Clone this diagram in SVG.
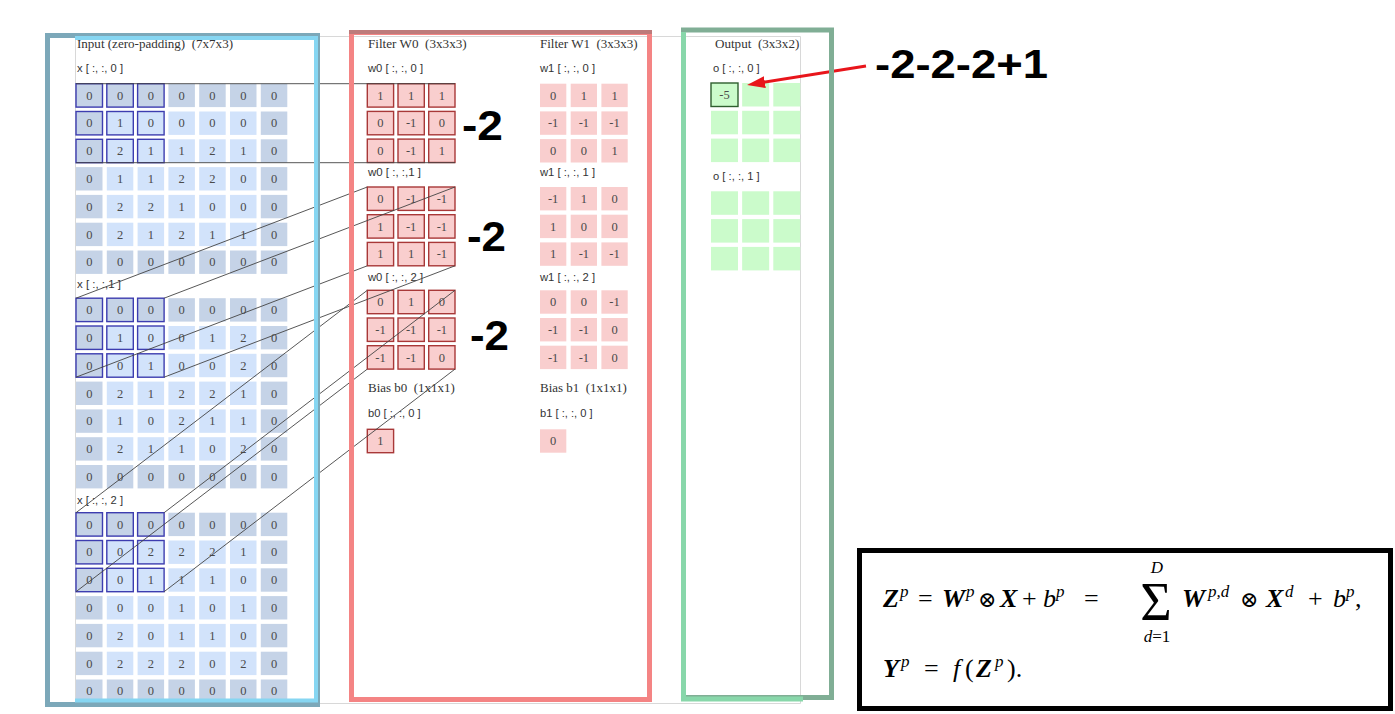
<svg xmlns="http://www.w3.org/2000/svg" xmlns:xlink="http://www.w3.org/1999/xlink" width="1395" height="714" viewBox="0 0 1395 714">
<style>
.pd{fill:#c5d3e7}
.in{fill:#d2e3fb}
.fc{fill:#f9cece}
.oc{fill:#cbfbcb}
.hb{fill:none;stroke:#3d3db0;stroke-width:1.4}
.hr{fill:none;stroke:#a83838;stroke-width:1.4}
.hg{fill:none;stroke:#2e5e2e;stroke-width:1.4}
.n{font-family:"Liberation Serif",serif;font-size:12.5px;fill:#4a4a4a;text-anchor:middle}
.t{font-family:"Liberation Serif",serif;font-size:12px;fill:#333}
.s{font-family:"Liberation Sans",sans-serif;font-size:10px;fill:#333}
.big{font-family:"Liberation Sans",sans-serif;font-weight:bold;fill:#000}
.ln{stroke:#444;stroke-width:0.9;fill:none}
.edge{stroke:#d8d8d8;stroke-width:1;fill:none}
.m{font-family:"Liberation Serif",serif;font-size:26px;fill:#000}
.sp{font-size:17px;font-style:italic}
.bi{font-weight:bold;font-style:italic}
.it{font-style:italic}
.op{font-family:"DejaVu Serif","Liberation Serif",serif;font-size:22px}
</style>
<defs>
<rect id="c7" width="26.5" height="23.4"/>
<rect id="c3" width="26.3" height="23.4"/>
<rect id="co" width="27" height="23.5"/>
<g id="g7">
<use href="#c7" class="pd" x="0" y="0"/><use href="#c7" class="pd" x="30.8" y="0"/><use href="#c7" class="pd" x="61.6" y="0"/><use href="#c7" class="pd" x="92.4" y="0"/><use href="#c7" class="pd" x="123.2" y="0"/><use href="#c7" class="pd" x="154" y="0"/><use href="#c7" class="pd" x="184.8" y="0"/>
<use href="#c7" class="pd" x="0" y="27.8"/><use href="#c7" class="in" x="30.8" y="27.8"/><use href="#c7" class="in" x="61.6" y="27.8"/><use href="#c7" class="in" x="92.4" y="27.8"/><use href="#c7" class="in" x="123.2" y="27.8"/><use href="#c7" class="in" x="154" y="27.8"/><use href="#c7" class="pd" x="184.8" y="27.8"/>
<use href="#c7" class="pd" x="0" y="55.6"/><use href="#c7" class="in" x="30.8" y="55.6"/><use href="#c7" class="in" x="61.6" y="55.6"/><use href="#c7" class="in" x="92.4" y="55.6"/><use href="#c7" class="in" x="123.2" y="55.6"/><use href="#c7" class="in" x="154" y="55.6"/><use href="#c7" class="pd" x="184.8" y="55.6"/>
<use href="#c7" class="pd" x="0" y="83.4"/><use href="#c7" class="in" x="30.8" y="83.4"/><use href="#c7" class="in" x="61.6" y="83.4"/><use href="#c7" class="in" x="92.4" y="83.4"/><use href="#c7" class="in" x="123.2" y="83.4"/><use href="#c7" class="in" x="154" y="83.4"/><use href="#c7" class="pd" x="184.8" y="83.4"/>
<use href="#c7" class="pd" x="0" y="111.2"/><use href="#c7" class="in" x="30.8" y="111.2"/><use href="#c7" class="in" x="61.6" y="111.2"/><use href="#c7" class="in" x="92.4" y="111.2"/><use href="#c7" class="in" x="123.2" y="111.2"/><use href="#c7" class="in" x="154" y="111.2"/><use href="#c7" class="pd" x="184.8" y="111.2"/>
<use href="#c7" class="pd" x="0" y="139"/><use href="#c7" class="in" x="30.8" y="139"/><use href="#c7" class="in" x="61.6" y="139"/><use href="#c7" class="in" x="92.4" y="139"/><use href="#c7" class="in" x="123.2" y="139"/><use href="#c7" class="in" x="154" y="139"/><use href="#c7" class="pd" x="184.8" y="139"/>
<use href="#c7" class="pd" x="0" y="166.8"/><use href="#c7" class="pd" x="30.8" y="166.8"/><use href="#c7" class="pd" x="61.6" y="166.8"/><use href="#c7" class="pd" x="92.4" y="166.8"/><use href="#c7" class="pd" x="123.2" y="166.8"/><use href="#c7" class="pd" x="154" y="166.8"/><use href="#c7" class="pd" x="184.8" y="166.8"/>
</g>
<g id="h7">
<use href="#c7" class="hb" x="0" y="0"/><use href="#c7" class="hb" x="30.8" y="0"/><use href="#c7" class="hb" x="61.6" y="0"/>
<use href="#c7" class="hb" x="0" y="27.8"/><use href="#c7" class="hb" x="30.8" y="27.8"/><use href="#c7" class="hb" x="61.6" y="27.8"/>
<use href="#c7" class="hb" x="0" y="55.6"/><use href="#c7" class="hb" x="30.8" y="55.6"/><use href="#c7" class="hb" x="61.6" y="55.6"/>
</g>
<g id="g3">
<use href="#c3" class="fc" x="0" y="0"/><use href="#c3" class="fc" x="30.7" y="0"/><use href="#c3" class="fc" x="61.4" y="0"/>
<use href="#c3" class="fc" x="0" y="27.7"/><use href="#c3" class="fc" x="30.7" y="27.7"/><use href="#c3" class="fc" x="61.4" y="27.7"/>
<use href="#c3" class="fc" x="0" y="55.4"/><use href="#c3" class="fc" x="30.7" y="55.4"/><use href="#c3" class="fc" x="61.4" y="55.4"/>
</g>
<g id="h3">
<use href="#c3" class="hr" x="0" y="0"/><use href="#c3" class="hr" x="30.7" y="0"/><use href="#c3" class="hr" x="61.4" y="0"/>
<use href="#c3" class="hr" x="0" y="27.7"/><use href="#c3" class="hr" x="30.7" y="27.7"/><use href="#c3" class="hr" x="61.4" y="27.7"/>
<use href="#c3" class="hr" x="0" y="55.4"/><use href="#c3" class="hr" x="30.7" y="55.4"/><use href="#c3" class="hr" x="61.4" y="55.4"/>
</g>
<g id="go">
<use href="#co" class="oc" x="0" y="0"/><use href="#co" class="oc" x="31.15" y="0"/><use href="#co" class="oc" x="62.3" y="0"/>
<use href="#co" class="oc" x="0" y="27.8"/><use href="#co" class="oc" x="31.15" y="27.8"/><use href="#co" class="oc" x="62.3" y="27.8"/>
<use href="#co" class="oc" x="0" y="55.6"/><use href="#co" class="oc" x="31.15" y="55.6"/><use href="#co" class="oc" x="62.3" y="55.6"/>
</g>
<marker id="ah" markerWidth="6" markerHeight="4" refX="2" refY="2" orient="auto" markerUnits="strokeWidth">
<path d="M0,0 L6,2 L0,4 z" fill="#e8151b"/>
</marker>
</defs>
<rect width="1395" height="714" fill="#fff"/>
<path class="edge" d="M75.5,36.5 H800.5 V703.5 H75.5 Z"/>

<g id="input">
<text class="t" x="77" y="48" xml:space="preserve" textLength="156" lengthAdjust="spacingAndGlyphs">Input (zero-padding)  (7x7x3)</text>
<text class="s" x="77" y="72" textLength="46" lengthAdjust="spacingAndGlyphs">x [ :, :, 0 ]</text>
<text class="s" x="77" y="288" textLength="44" lengthAdjust="spacingAndGlyphs">x [ :, :,1 ]</text>
<text class="s" x="77" y="503.5" textLength="46" lengthAdjust="spacingAndGlyphs">x [ :, :, 2 ]</text>
<g id="input-x0" transform="translate(76,83.7)">
<use href="#g7"/><use href="#h7"/>
<text class="n" x="13.25" y="16">0</text><text class="n" x="44.05" y="16">0</text><text class="n" x="74.85" y="16">0</text><text class="n" x="105.65" y="16">0</text><text class="n" x="136.45" y="16">0</text><text class="n" x="167.25" y="16">0</text><text class="n" x="198.05" y="16">0</text>
<text class="n" x="13.25" y="43.8">0</text><text class="n" x="44.05" y="43.8">1</text><text class="n" x="74.85" y="43.8">0</text><text class="n" x="105.65" y="43.8">0</text><text class="n" x="136.45" y="43.8">0</text><text class="n" x="167.25" y="43.8">0</text><text class="n" x="198.05" y="43.8">0</text>
<text class="n" x="13.25" y="71.6">0</text><text class="n" x="44.05" y="71.6">2</text><text class="n" x="74.85" y="71.6">1</text><text class="n" x="105.65" y="71.6">1</text><text class="n" x="136.45" y="71.6">2</text><text class="n" x="167.25" y="71.6">1</text><text class="n" x="198.05" y="71.6">0</text>
<text class="n" x="13.25" y="99.4">0</text><text class="n" x="44.05" y="99.4">1</text><text class="n" x="74.85" y="99.4">1</text><text class="n" x="105.65" y="99.4">2</text><text class="n" x="136.45" y="99.4">2</text><text class="n" x="167.25" y="99.4">0</text><text class="n" x="198.05" y="99.4">0</text>
<text class="n" x="13.25" y="127.2">0</text><text class="n" x="44.05" y="127.2">2</text><text class="n" x="74.85" y="127.2">2</text><text class="n" x="105.65" y="127.2">1</text><text class="n" x="136.45" y="127.2">0</text><text class="n" x="167.25" y="127.2">0</text><text class="n" x="198.05" y="127.2">0</text>
<text class="n" x="13.25" y="155">0</text><text class="n" x="44.05" y="155">2</text><text class="n" x="74.85" y="155">1</text><text class="n" x="105.65" y="155">2</text><text class="n" x="136.45" y="155">1</text><text class="n" x="167.25" y="155">1</text><text class="n" x="198.05" y="155">0</text>
<text class="n" x="13.25" y="182.8">0</text><text class="n" x="44.05" y="182.8">0</text><text class="n" x="74.85" y="182.8">0</text><text class="n" x="105.65" y="182.8">0</text><text class="n" x="136.45" y="182.8">0</text><text class="n" x="167.25" y="182.8">0</text><text class="n" x="198.05" y="182.8">0</text>
</g>
<g id="input-x1" transform="translate(76,298.2)">
<use href="#g7"/><use href="#h7"/>
<text class="n" x="13.25" y="16">0</text><text class="n" x="44.05" y="16">0</text><text class="n" x="74.85" y="16">0</text><text class="n" x="105.65" y="16">0</text><text class="n" x="136.45" y="16">0</text><text class="n" x="167.25" y="16">0</text><text class="n" x="198.05" y="16">0</text>
<text class="n" x="13.25" y="43.8">0</text><text class="n" x="44.05" y="43.8">1</text><text class="n" x="74.85" y="43.8">0</text><text class="n" x="105.65" y="43.8">0</text><text class="n" x="136.45" y="43.8">1</text><text class="n" x="167.25" y="43.8">2</text><text class="n" x="198.05" y="43.8">0</text>
<text class="n" x="13.25" y="71.6">0</text><text class="n" x="44.05" y="71.6">0</text><text class="n" x="74.85" y="71.6">1</text><text class="n" x="105.65" y="71.6">0</text><text class="n" x="136.45" y="71.6">0</text><text class="n" x="167.25" y="71.6">2</text><text class="n" x="198.05" y="71.6">0</text>
<text class="n" x="13.25" y="99.4">0</text><text class="n" x="44.05" y="99.4">2</text><text class="n" x="74.85" y="99.4">1</text><text class="n" x="105.65" y="99.4">2</text><text class="n" x="136.45" y="99.4">2</text><text class="n" x="167.25" y="99.4">1</text><text class="n" x="198.05" y="99.4">0</text>
<text class="n" x="13.25" y="127.2">0</text><text class="n" x="44.05" y="127.2">1</text><text class="n" x="74.85" y="127.2">0</text><text class="n" x="105.65" y="127.2">2</text><text class="n" x="136.45" y="127.2">1</text><text class="n" x="167.25" y="127.2">1</text><text class="n" x="198.05" y="127.2">0</text>
<text class="n" x="13.25" y="155">0</text><text class="n" x="44.05" y="155">2</text><text class="n" x="74.85" y="155">1</text><text class="n" x="105.65" y="155">1</text><text class="n" x="136.45" y="155">0</text><text class="n" x="167.25" y="155">2</text><text class="n" x="198.05" y="155">0</text>
<text class="n" x="13.25" y="182.8">0</text><text class="n" x="44.05" y="182.8">0</text><text class="n" x="74.85" y="182.8">0</text><text class="n" x="105.65" y="182.8">0</text><text class="n" x="136.45" y="182.8">0</text><text class="n" x="167.25" y="182.8">0</text><text class="n" x="198.05" y="182.8">0</text>
</g>
<g id="input-x2" transform="translate(76,512.7)">
<use href="#g7"/><use href="#h7"/>
<text class="n" x="13.25" y="16">0</text><text class="n" x="44.05" y="16">0</text><text class="n" x="74.85" y="16">0</text><text class="n" x="105.65" y="16">0</text><text class="n" x="136.45" y="16">0</text><text class="n" x="167.25" y="16">0</text><text class="n" x="198.05" y="16">0</text>
<text class="n" x="13.25" y="43.8">0</text><text class="n" x="44.05" y="43.8">0</text><text class="n" x="74.85" y="43.8">2</text><text class="n" x="105.65" y="43.8">2</text><text class="n" x="136.45" y="43.8">2</text><text class="n" x="167.25" y="43.8">1</text><text class="n" x="198.05" y="43.8">0</text>
<text class="n" x="13.25" y="71.6">0</text><text class="n" x="44.05" y="71.6">0</text><text class="n" x="74.85" y="71.6">1</text><text class="n" x="105.65" y="71.6">1</text><text class="n" x="136.45" y="71.6">1</text><text class="n" x="167.25" y="71.6">0</text><text class="n" x="198.05" y="71.6">0</text>
<text class="n" x="13.25" y="99.4">0</text><text class="n" x="44.05" y="99.4">0</text><text class="n" x="74.85" y="99.4">0</text><text class="n" x="105.65" y="99.4">1</text><text class="n" x="136.45" y="99.4">0</text><text class="n" x="167.25" y="99.4">1</text><text class="n" x="198.05" y="99.4">0</text>
<text class="n" x="13.25" y="127.2">0</text><text class="n" x="44.05" y="127.2">2</text><text class="n" x="74.85" y="127.2">0</text><text class="n" x="105.65" y="127.2">1</text><text class="n" x="136.45" y="127.2">1</text><text class="n" x="167.25" y="127.2">0</text><text class="n" x="198.05" y="127.2">0</text>
<text class="n" x="13.25" y="155">0</text><text class="n" x="44.05" y="155">2</text><text class="n" x="74.85" y="155">2</text><text class="n" x="105.65" y="155">2</text><text class="n" x="136.45" y="155">0</text><text class="n" x="167.25" y="155">2</text><text class="n" x="198.05" y="155">0</text>
<text class="n" x="13.25" y="182.8">0</text><text class="n" x="44.05" y="182.8">0</text><text class="n" x="74.85" y="182.8">0</text><text class="n" x="105.65" y="182.8">0</text><text class="n" x="136.45" y="182.8">0</text><text class="n" x="167.25" y="182.8">0</text><text class="n" x="198.05" y="182.8">0</text>
</g>
</g>

<g id="filter-w0">
<text class="t" x="368" y="48" xml:space="preserve" textLength="98.7" lengthAdjust="spacingAndGlyphs">Filter W0  (3x3x3)</text>
<text class="s" x="368" y="71.5" textLength="55" lengthAdjust="spacingAndGlyphs">w0 [ :, :, 0 ]</text>
<text class="s" x="368" y="176" textLength="53" lengthAdjust="spacingAndGlyphs">w0 [ :, :,1 ]</text>
<text class="s" x="368" y="280.5" textLength="55" lengthAdjust="spacingAndGlyphs">w0 [ :, :, 2 ]</text>
<g transform="translate(367.3,83.7)">
<use href="#g3"/><use href="#h3"/>
<text class="n" x="13.15" y="16">1</text><text class="n" x="43.85" y="16">1</text><text class="n" x="74.55" y="16">1</text>
<text class="n" x="13.15" y="43.7">0</text><text class="n" x="43.85" y="43.7">-1</text><text class="n" x="74.55" y="43.7">0</text>
<text class="n" x="13.15" y="71.4">0</text><text class="n" x="43.85" y="71.4">-1</text><text class="n" x="74.55" y="71.4">1</text>
</g>
<g transform="translate(367.3,187)">
<use href="#g3"/><use href="#h3"/>
<text class="n" x="13.15" y="16">0</text><text class="n" x="43.85" y="16">-1</text><text class="n" x="74.55" y="16">-1</text>
<text class="n" x="13.15" y="43.7">1</text><text class="n" x="43.85" y="43.7">-1</text><text class="n" x="74.55" y="43.7">-1</text>
<text class="n" x="13.15" y="71.4">1</text><text class="n" x="43.85" y="71.4">1</text><text class="n" x="74.55" y="71.4">-1</text>
</g>
<g transform="translate(367.3,290.3)">
<use href="#g3"/><use href="#h3"/>
<text class="n" x="13.15" y="16">0</text><text class="n" x="43.85" y="16">1</text><text class="n" x="74.55" y="16">0</text>
<text class="n" x="13.15" y="43.7">-1</text><text class="n" x="43.85" y="43.7">-1</text><text class="n" x="74.55" y="43.7">-1</text>
<text class="n" x="13.15" y="71.4">-1</text><text class="n" x="43.85" y="71.4">-1</text><text class="n" x="74.55" y="71.4">0</text>
</g>
</g>

<g id="bias-b0">
<text class="t" x="368" y="392" xml:space="preserve" textLength="86.7" lengthAdjust="spacingAndGlyphs">Bias b0  (1x1x1)</text>
<text class="s" x="368" y="416.5" textLength="52.7" lengthAdjust="spacingAndGlyphs">b0 [ :, :, 0 ]</text>
<use href="#c3" class="fc" x="367.3" y="429.3"/><use href="#c3" class="hr" x="367.3" y="429.3"/>
<text class="n" x="380.45" y="445.3">1</text>
</g>

<g id="filter-w1">
<text class="t" x="540" y="48" xml:space="preserve" textLength="97.7" lengthAdjust="spacingAndGlyphs">Filter W1  (3x3x3)</text>
<text class="s" x="540" y="71.5" textLength="55" lengthAdjust="spacingAndGlyphs">w1 [ :, :, 0 ]</text>
<text class="s" x="540" y="176" textLength="55" lengthAdjust="spacingAndGlyphs">w1 [ :, :, 1 ]</text>
<text class="s" x="540" y="280.5" textLength="55" lengthAdjust="spacingAndGlyphs">w1 [ :, :, 2 ]</text>
<g transform="translate(540,83.7)">
<use href="#g3"/>
<text class="n" x="13.15" y="16">0</text><text class="n" x="43.85" y="16">1</text><text class="n" x="74.55" y="16">1</text>
<text class="n" x="13.15" y="43.7">-1</text><text class="n" x="43.85" y="43.7">-1</text><text class="n" x="74.55" y="43.7">-1</text>
<text class="n" x="13.15" y="71.4">0</text><text class="n" x="43.85" y="71.4">0</text><text class="n" x="74.55" y="71.4">1</text>
</g>
<g transform="translate(540,187)">
<use href="#g3"/>
<text class="n" x="13.15" y="16">-1</text><text class="n" x="43.85" y="16">1</text><text class="n" x="74.55" y="16">0</text>
<text class="n" x="13.15" y="43.7">1</text><text class="n" x="43.85" y="43.7">0</text><text class="n" x="74.55" y="43.7">0</text>
<text class="n" x="13.15" y="71.4">1</text><text class="n" x="43.85" y="71.4">-1</text><text class="n" x="74.55" y="71.4">-1</text>
</g>
<g transform="translate(540,290.3)">
<use href="#g3"/>
<text class="n" x="13.15" y="16">0</text><text class="n" x="43.85" y="16">0</text><text class="n" x="74.55" y="16">-1</text>
<text class="n" x="13.15" y="43.7">-1</text><text class="n" x="43.85" y="43.7">-1</text><text class="n" x="74.55" y="43.7">0</text>
<text class="n" x="13.15" y="71.4">-1</text><text class="n" x="43.85" y="71.4">-1</text><text class="n" x="74.55" y="71.4">0</text>
</g>
</g>

<g id="bias-b1">
<text class="t" x="540" y="392" xml:space="preserve" textLength="86.7" lengthAdjust="spacingAndGlyphs">Bias b1  (1x1x1)</text>
<text class="s" x="540" y="416.5" textLength="52.7" lengthAdjust="spacingAndGlyphs">b1 [ :, :, 0 ]</text>
<use href="#c3" class="fc" x="540" y="429.3"/>
<text class="n" x="553.15" y="445.3">0</text>
</g>

<g id="output">
<text class="t" x="715" y="48" xml:space="preserve" textLength="84.3" lengthAdjust="spacingAndGlyphs">Output  (3x3x2)</text>
<text class="s" x="713" y="71.5" textLength="46.7" lengthAdjust="spacingAndGlyphs">o [ :, :, 0 ]</text>
<text class="s" x="713" y="180" textLength="46.7" lengthAdjust="spacingAndGlyphs">o [ :, :, 1 ]</text>
<g transform="translate(711,83)">
<use href="#go"/><use href="#co" class="hg"/>
<text class="n" x="13.5" y="16">-5</text>
</g>
<g transform="translate(711,191.3)">
<use href="#go"/>
</g>
</g>

<g id="connectors">
<path class="ln" d="M76,83.7 H455"/>
<path class="ln" d="M76,162.7 H455"/>
<path class="ln" d="M76,298.2 L367.3,187"/>
<path class="ln" d="M164.1,298.2 L455,187"/>
<path class="ln" d="M76,377.2 L367.3,265.8"/>
<path class="ln" d="M164.1,377.2 L455,265.8"/>
<path class="ln" d="M76,512.7 L367.3,290.3"/>
<path class="ln" d="M164.1,512.7 L455,290.3"/>
<path class="ln" d="M76,591.7 L367.3,369.1"/>
<path class="ln" d="M164.1,591.7 L455,369.1"/>
<line x1="866" y1="66" x2="758.9" y2="83.1" stroke="#e8151b" stroke-width="3" marker-end="url(#ah)"/>
</g>

<g id="frames">
<rect x="47.5" y="35.5" width="270" height="669" fill="none" stroke="#7ca8b9" stroke-width="5"/>
<path d="M75,38 H316 V700.5 H75" fill="none" stroke="#86d6f2" stroke-width="4"/>
<rect x="351.5" y="32.5" width="298" height="667" fill="none" stroke="#f48484" stroke-width="5"/>
<line x1="349" y1="32" x2="652" y2="32" stroke="#bd7b7b" stroke-width="4"/>
<rect x="683.5" y="30" width="148" height="667.5" fill="none" stroke="#80ae95" stroke-width="5"/>
<path d="M683.5,32 V699 H803" fill="none" stroke="#88d7aa" stroke-width="5"/>
</g>

<g id="sums">
<text class="big" x="462" y="140" font-size="43" textLength="41" lengthAdjust="spacingAndGlyphs">-2</text>
<text class="big" x="467" y="251" font-size="43" textLength="39" lengthAdjust="spacingAndGlyphs">-2</text>
<text class="big" x="470" y="350" font-size="43" textLength="39" lengthAdjust="spacingAndGlyphs">-2</text>
<text class="big" x="875" y="78" font-size="40" textLength="173" lengthAdjust="spacingAndGlyphs">-2-2-2+1</text>
</g>

<g id="formula">
<rect x="859.5" y="550.5" width="531" height="158" fill="#fff" stroke="#000" stroke-width="5"/>
<text class="m"><tspan x="883" y="607" class="bi">Z</tspan><tspan x="900" y="597" class="sp">p</tspan><tspan x="918" y="607">=</tspan><tspan x="942" y="607" class="bi">W</tspan><tspan x="966" y="597" class="sp">p</tspan><tspan x="978" y="607" class="op">⊗</tspan><tspan x="1000" y="607" class="bi">X</tspan><tspan x="1022" y="607">+</tspan><tspan x="1043" y="607" class="it">b</tspan><tspan x="1056" y="597" class="sp">p</tspan><tspan x="1084" y="607">=</tspan></text>
<text class="m" x="1156" y="620" text-anchor="middle" style="font-size:54px">Σ</text>
<text class="m" x="1157" y="573" text-anchor="middle"><tspan class="sp">D</tspan></text>
<text class="m" x="1157" y="642" text-anchor="middle" style="font-size:17px"><tspan font-style="italic">d</tspan>=1</text>
<text class="m"><tspan x="1182" y="607" class="bi">W</tspan><tspan x="1208" y="597" class="sp">p,d</tspan><tspan x="1240" y="607" class="op">⊗</tspan><tspan x="1266" y="607" class="bi">X</tspan><tspan x="1285" y="597" class="sp">d</tspan><tspan x="1308" y="607">+</tspan><tspan x="1333" y="607" class="it">b</tspan><tspan x="1346" y="597" class="sp">p</tspan><tspan x="1355" y="607">,</tspan></text>
<text class="m"><tspan x="883" y="677" class="bi">Y</tspan><tspan x="901" y="667" class="sp">p</tspan><tspan x="924" y="677">=</tspan><tspan x="953" y="677" class="it">f</tspan><tspan x="965" y="677">(</tspan><tspan x="976" y="677" class="bi">Z</tspan><tspan x="995" y="667" class="sp">p</tspan><tspan x="1007" y="677">).</tspan></text>
</g>
</svg>
